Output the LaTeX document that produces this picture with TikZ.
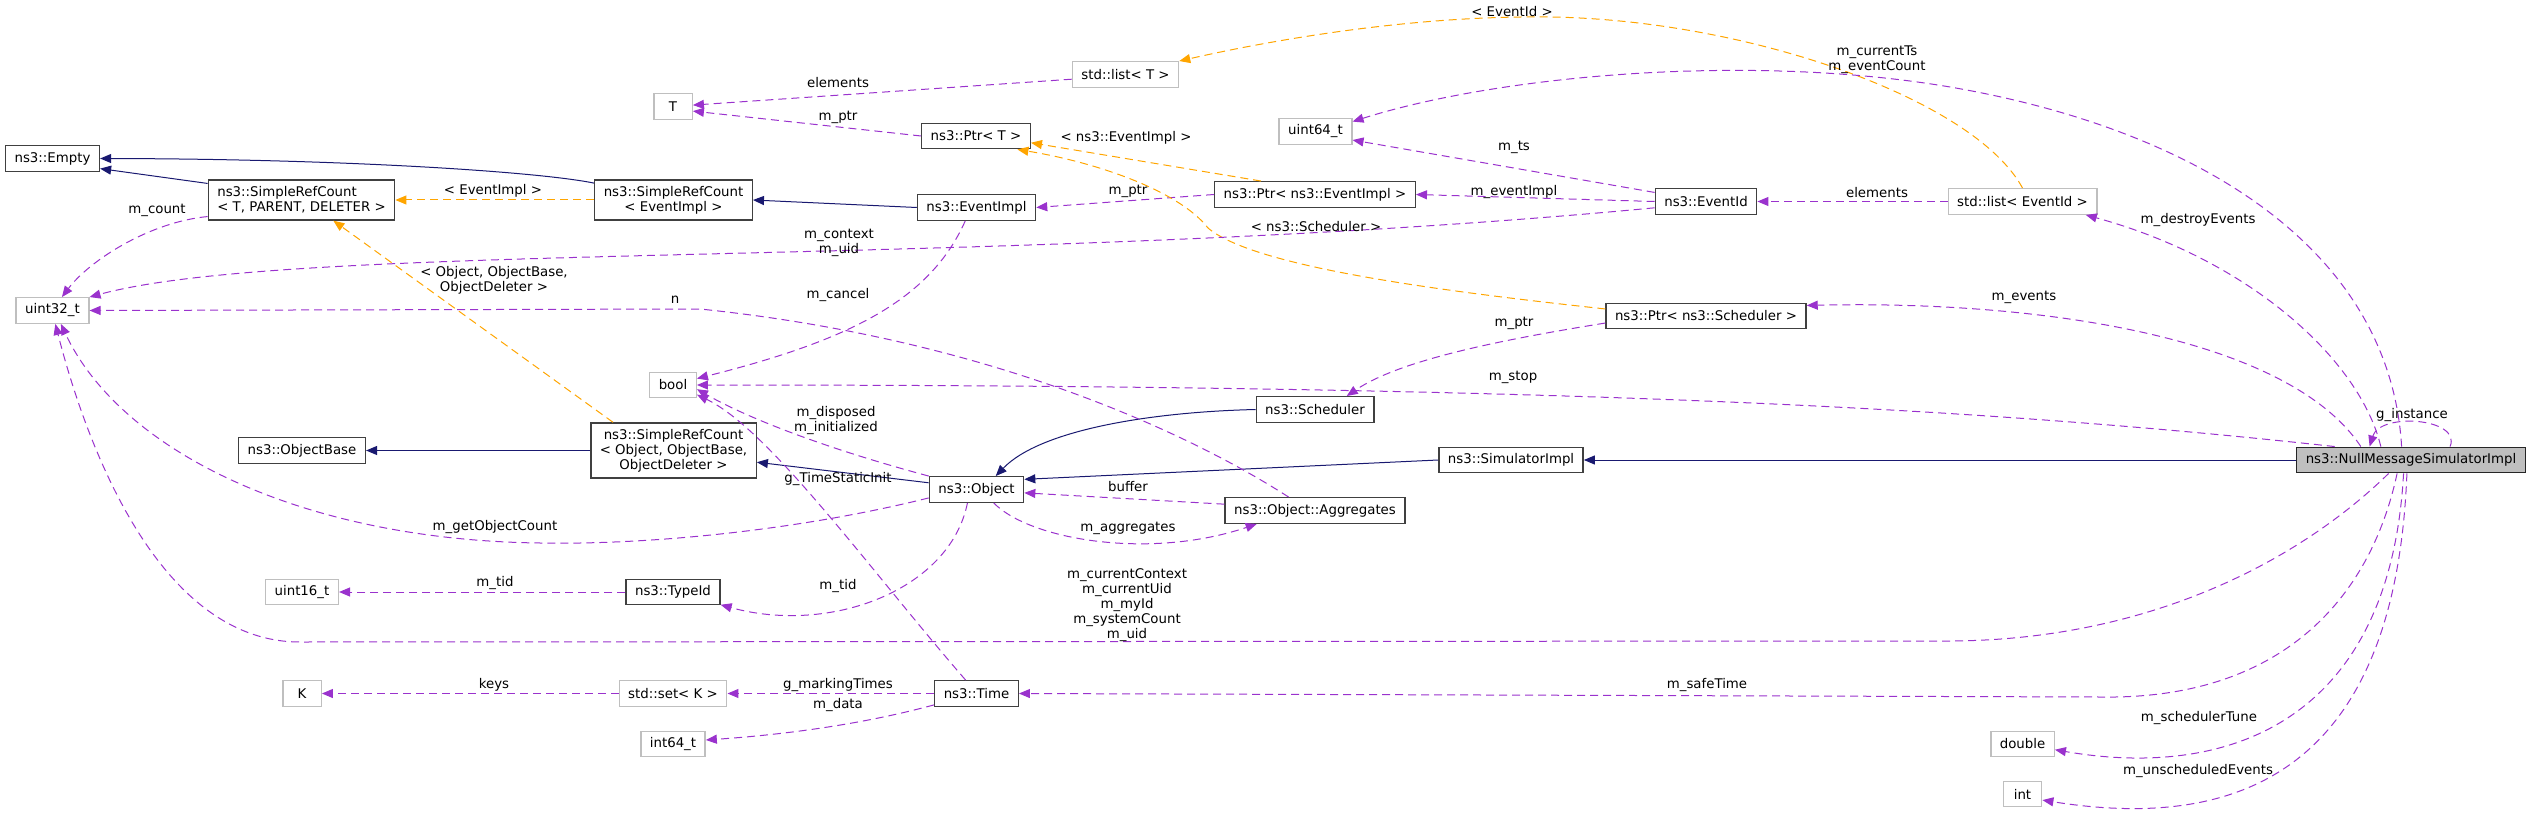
\documentclass[tikz,border=0pt]{standalone}
\usepackage{fontspec}
\setmainfont{DejaVu Sans}
\usetikzlibrary{arrows.meta}
\definecolor{midnight}{HTML}{191970}
\definecolor{orchid}{HTML}{9A32CD}
\definecolor{tangerine}{HTML}{FFA500}
\newcommand\dotfont{\fontsize{13.33}{15}\selectfont}

\def\plaintypes{{(52.5,310.5)/uint32/uint32\_t}, {(673,106.5)/T/T}, {(1125.5,74.5)/listT/std::list< T >},
  {(1315.5,131.5)/uint64/uint64\_t}, {(2022.5,201.5)/listEvent/std::list< EventId >}, {(673,385)/bool/bool},
  {(302,592)/uint16/uint16\_t}, {(302,693.5)/K/K}, {(673,693.5)/setK/std::set< K >}, {(673,744)/int64/int64\_t},
  {(2022.5,744)/double/double}, {(2022.5,794)/int/int}}
\def\classes{{(52.5,158.5)/empty/ns3::Empty}, {(976,136)/ptrT/ns3::Ptr< T >}, {(976.5,207.5)/eventImpl/ns3::EventImpl},
  {(1315,194.5)/ptrEvent/ns3::Ptr< ns3::EventImpl >}, {(1706,201.5)/eventId/ns3::EventId},
  {(1706,316)/ptrSched/ns3::Ptr< ns3::Scheduler >}, {(1315,409.5)/scheduler/ns3::Scheduler},
  {(302,450.5)/objBase/ns3::ObjectBase}, {(976.5,489.5)/object/ns3::Object},
  {(1315,510.5)/aggregates/ns3::Object::Aggregates}, {(1511,460)/simImpl/ns3::SimulatorImpl},
  {(673,592)/typeId/ns3::TypeId}, {(976.5,693.5)/time/ns3::Time}}
\def\inherits{srcBase.170/empty.-12, eventImpl.west/srcEvent.east, srcObject.west/objBase.east,
  object.172/srcObject.-8, simImpl.west/object.12, nullSim.west/simImpl.east}
\def\templates{srcEvent.west/srcBase.east, srcObject.155/srcBase.-33, ptrEvent.166/ptrT.-7}
\def\members{ptrT.west/T.-13, listT.-175/T.4, ptrEvent.west/eventImpl.east, eventId.west/ptrEvent.east,
  eventId.170/uint64.-13, listEvent.west/eventId.east, aggregates.176/object.-4, typeId.west/uint16.east,
  setK.west/K.east, time.west/setK.east}
\def\memberlabels{{(493,191)/lEventImpl/< EventImpl >}, {(1126,138)/lPtrEvent/< ns3::EventImpl >},
  {(1316,227)/lPtrSched/< ns3::Scheduler >}, {(1512,12)/lListEvent/< EventId >},
  {(157,210)/lCount/m\_count}, {(675,300)/lN/n}, {(838,295)/lCancel/m\_cancel}, {(1513,377)/lStop/m\_stop},
  {(838,479)/lStatic/g\_TimeStaticInit}, {(495,527)/lGetCount/m\_getObjectCount}, {(1514,147)/lTs/m\_ts},
  {(1514,192)/lEventImplPtr/m\_eventImpl}, {(1128,191)/lPtrA/m\_ptr}, {(838,117)/lPtrB/m\_ptr},
  {(838,83)/lElemA/elements}, {(1877,193)/lElemB/elements}, {(2198,220)/lDestroy/m\_destroyEvents},
  {(2024,297)/lEvents/m\_events}, {(1514,323)/lPtrC/m\_ptr}, {(1128,528)/lAggr/m\_aggregates},
  {(1128,487)/lBuffer/buffer}, {(838,586)/lTidA/m\_tid}, {(495,583)/lTidB/m\_tid}, {(494,685)/lKeys/keys},
  {(838,685)/lMarking/g\_markingTimes}, {(838,705)/lData/m\_data}, {(1707,685)/lSafe/m\_safeTime},
  {(2199,718)/lTune/m\_schedulerTune}, {(2198,771)/lUnsched/m\_unscheduledEvents}, {(2412,415)/lInstance/g\_instance}}

\tikzstyle{classbox}=[draw=black!75, line width=1.4pt, fill=white, font=\dotfont, inner xsep=9pt, inner ysep=2pt,
  minimum width=38.4pt, minimum height=25.5pt, align=center]
\tikzstyle{plainbox}=[classbox, draw=black!25]
\tikzstyle{focusbox}=[classbox, fill=black!25, draw=black!85]
\tikzstyle{base edge}=[draw=midnight, line width=1pt, -{Triangle[length=11pt,width=9pt]}]
\tikzstyle{member edge}=[draw=orchid, line width=1pt, dash pattern=on 8pt off 5pt, -{Triangle[length=11pt,width=9pt]}]
\tikzstyle{template edge}=[member edge, draw=tangerine]
\tikzstyle{member}=[font=\dotfont, inner sep=0pt, align=center]

\begin{document}
\begin{tikzpicture}[x=1pt,y=-1pt]
  \useasboundingbox (0,0) rectangle (2531,818);

  % First we draw the boxes
  \foreach \pos/\name/\title in \classes
    \node[classbox] (\name) at \pos {\title};
  \foreach \pos/\name/\title in \plaintypes
    \node[plainbox] (\name) at \pos {\title};
  \node[classbox, align=left, minimum height=40pt] (srcBase) at (301.5,200) {ns3::SimpleRefCount\\< T, PARENT, DELETER >};
  \node[classbox, minimum height=40pt] (srcEvent) at (673.5,200) {ns3::SimpleRefCount\\< EventImpl >};
  \node[classbox, minimum height=55pt] (srcObject) at (673.5,450.5) {ns3::SimpleRefCount\\< Object, ObjectBase,\\ObjectDeleter >};
  \node[focusbox] (nullSim) at (2411,460) {ns3::NullMessageSimulatorImpl};

  % Straight edges
  \foreach \source/\dest in \inherits
    \path[base edge] (\source) -- (\dest);
  \foreach \source/\dest in \templates
    \path[template edge] (\source) -- (\dest);
  \foreach \source/\dest in \members
    \path[member edge] (\source) -- (\dest);

  % Curved edges
  \path[base edge] (srcEvent.168) .. controls (540,172) and (350,159) .. (empty.east);
  \path[base edge] (scheduler.west) .. controls (1150,412) and (1040,430) .. (object.35);
  \path[template edge] (ptrSched.176) .. controls (1450,292) and (1255,268) .. (1208,228)
    .. controls (1180,192) and (1100,163) .. (ptrT.-18);
  \path[template edge] (listEvent.north) .. controls (1975,100) and (1750,20) .. (1550,17)
    .. controls (1400,15) and (1250,45) .. (listT.north east);
  \path[member edge] (srcBase.190) .. controls (150,222) and (90,260) .. (uint32.55);
  \path[member edge] (eventId.187) .. controls (1000,270) and (300,240) .. (uint32.north east);
  \path[member edge] (aggregates.153) .. controls (1200,440) and (1000,340) .. (700,309) -- (uint32.east);
  \path[member edge] (eventImpl.-130) .. controls (930,300) and (850,340) .. (bool.15);
  \path[member edge] (nullSim.170) .. controls (2000,410) and (1600,385) .. (bool.east);
  \path[member edge] (object.north west) .. controls (850,455) and (760,425) .. (bool.-10);
  \path[member edge] (time.129) .. controls (870,570) and (770,430) .. (bool.-22);
  \path[member edge] (object.190) .. controls (800,530) and (650,545) .. (540,543)
    .. controls (300,540) and (120,450) .. (uint32.-58);
  \path[member edge] (nullSim.-149) .. controls (2300,560) and (2150,640) .. (1950,641) -- (300,642)
    .. controls (150,642) and (80,420) .. (uint32.-78);
  \path[member edge] (nullSim.125) .. controls (2390,250) and (2200,130) .. (1950,87)
    .. controls (1750,53) and (1500,75) .. (uint64.15);
  \path[member edge] (nullSim.156) .. controls (2360,360) and (2250,260) .. (listEvent.-12);
  \path[member edge] (nullSim.165) .. controls (2290,340) and (2050,300) .. (ptrSched.6);
  \path[member edge] (ptrSched.184) .. controls (1500,340) and (1400,360) .. (scheduler.23);
  \path[member edge] (object.-38) .. controls (1030,540) and (1150,560) .. (aggregates.-167);
  \path[member edge] (object.-124) .. controls (950,590) and (830,635) .. (typeId.-15);
  \path[member edge] (time.195) .. controls (860,725) and (780,735) .. (int64.7);
  \path[member edge] (nullSim.-136) .. controls (2370,600) and (2280,700) .. (2100,697) -- (time.east);
  \path[member edge] (nullSim.-119) .. controls (2390,720) and (2230,780) .. (double.-10);
  \path[member edge] (nullSim.-107) .. controls (2395,780) and (2230,830) .. (int.-17);
  \path[member edge] (nullSim.19) .. controls (2462,418) and (2380,412) .. (nullSim.162);

  % Edge labels
  \foreach \pos/\name/\title in \memberlabels
    \node[member] (\name) at \pos {\title};
  \node[member] (lObject) at (494,280) {< Object, ObjectBase,\\ObjectDeleter >};
  \node[member] (lContext) at (839,243) {m\_context\\m\_uid};
  \node[member] (lDisposed) at (836,421) {m\_disposed\\m\_initialized};
  \node[member] (lCurrentTs) at (1877,60) {m\_currentTs\\m\_eventCount};
  \node[member] (lContextAll) at (1127,605) {m\_currentContext\\m\_currentUid\\m\_myId\\m\_systemCount\\m\_uid};
\end{tikzpicture}
\end{document}
